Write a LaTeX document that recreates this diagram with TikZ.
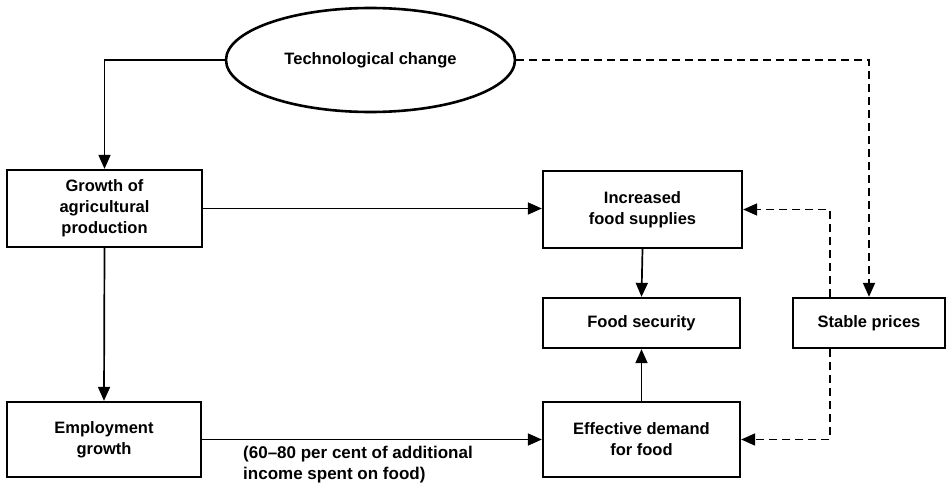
\documentclass[tikz,border=0pt]{standalone}
\usepackage{fontspec}
\setmainfont{Liberation Sans}
\usetikzlibrary{arrows.meta,shapes.geometric,calc}
\tikzset{
  box/.style={draw, line width=2.3pt, rectangle, align=center, inner sep=0pt,
    font=\fontsize{16.5}{21}\selectfont\bfseries},
  oval/.style={draw, line width=2.6pt, ellipse, inner sep=0pt, align=center,
    font=\fontsize{16.5}{21}\selectfont\bfseries},
  conn/.style={line width=1.7pt, -{Triangle[length=14pt,width=12pt]}},
  dconn/.style={conn, dash pattern=on 8pt off 5pt},
  lbl/.style={inner sep=0pt, align=left, font=\fontsize{17}{21}\selectfont\bfseries}
}
\begin{document}
\begin{tikzpicture}[x=1pt,y=-1pt]
\useasboundingbox (0,0) rectangle (950,487);
\node[oval, minimum width=289pt, minimum height=104pt] (tech) at (370.5,60) {Technological change};
\node[box, minimum width=195pt, minimum height=77pt] (grow) at (104.5,208.5) {Growth of\\agricultural\\production};
\node[box, minimum width=194pt, minimum height=75pt] (emp) at (104,439.5) {Employment\\growth};
\node[box, minimum width=199pt, minimum height=77pt] (inc) at (642.5,209.5) {Increased\\food supplies};
\node[box, minimum width=197pt, minimum height=50pt] (sec) at (641.5,323) {Food security};
\node[box, minimum width=197pt, minimum height=75pt] (eff) at (641.5,439.5) {Effective demand\\for food};
\node[box, minimum width=152pt, minimum height=50pt] (stab) at (869,323) {Stable prices};
\node[lbl, anchor=north west] (note) at (243,446) {(60--80 per cent of additional\\income spent on food)};
\coordinate (sl) at (830,0);
\draw[conn] (tech.west) -| (grow.north);
\draw[conn] (grow.east) -- (grow.east -| inc.west);
\draw[conn] (grow.south) -- (emp.north);
\draw[conn] (emp.east) -- (emp.east -| eff.west);
\draw[conn] (inc.south) -- (sec.north);
\draw[conn] (eff.north) -- (sec.south);
\draw[dconn] (tech.east) -| (stab.north);
\draw[dconn] (stab.north -| sl) |- (inc.east);
\draw[dconn] (stab.south -| sl) |- (eff.east);
\end{tikzpicture}
\end{document}
